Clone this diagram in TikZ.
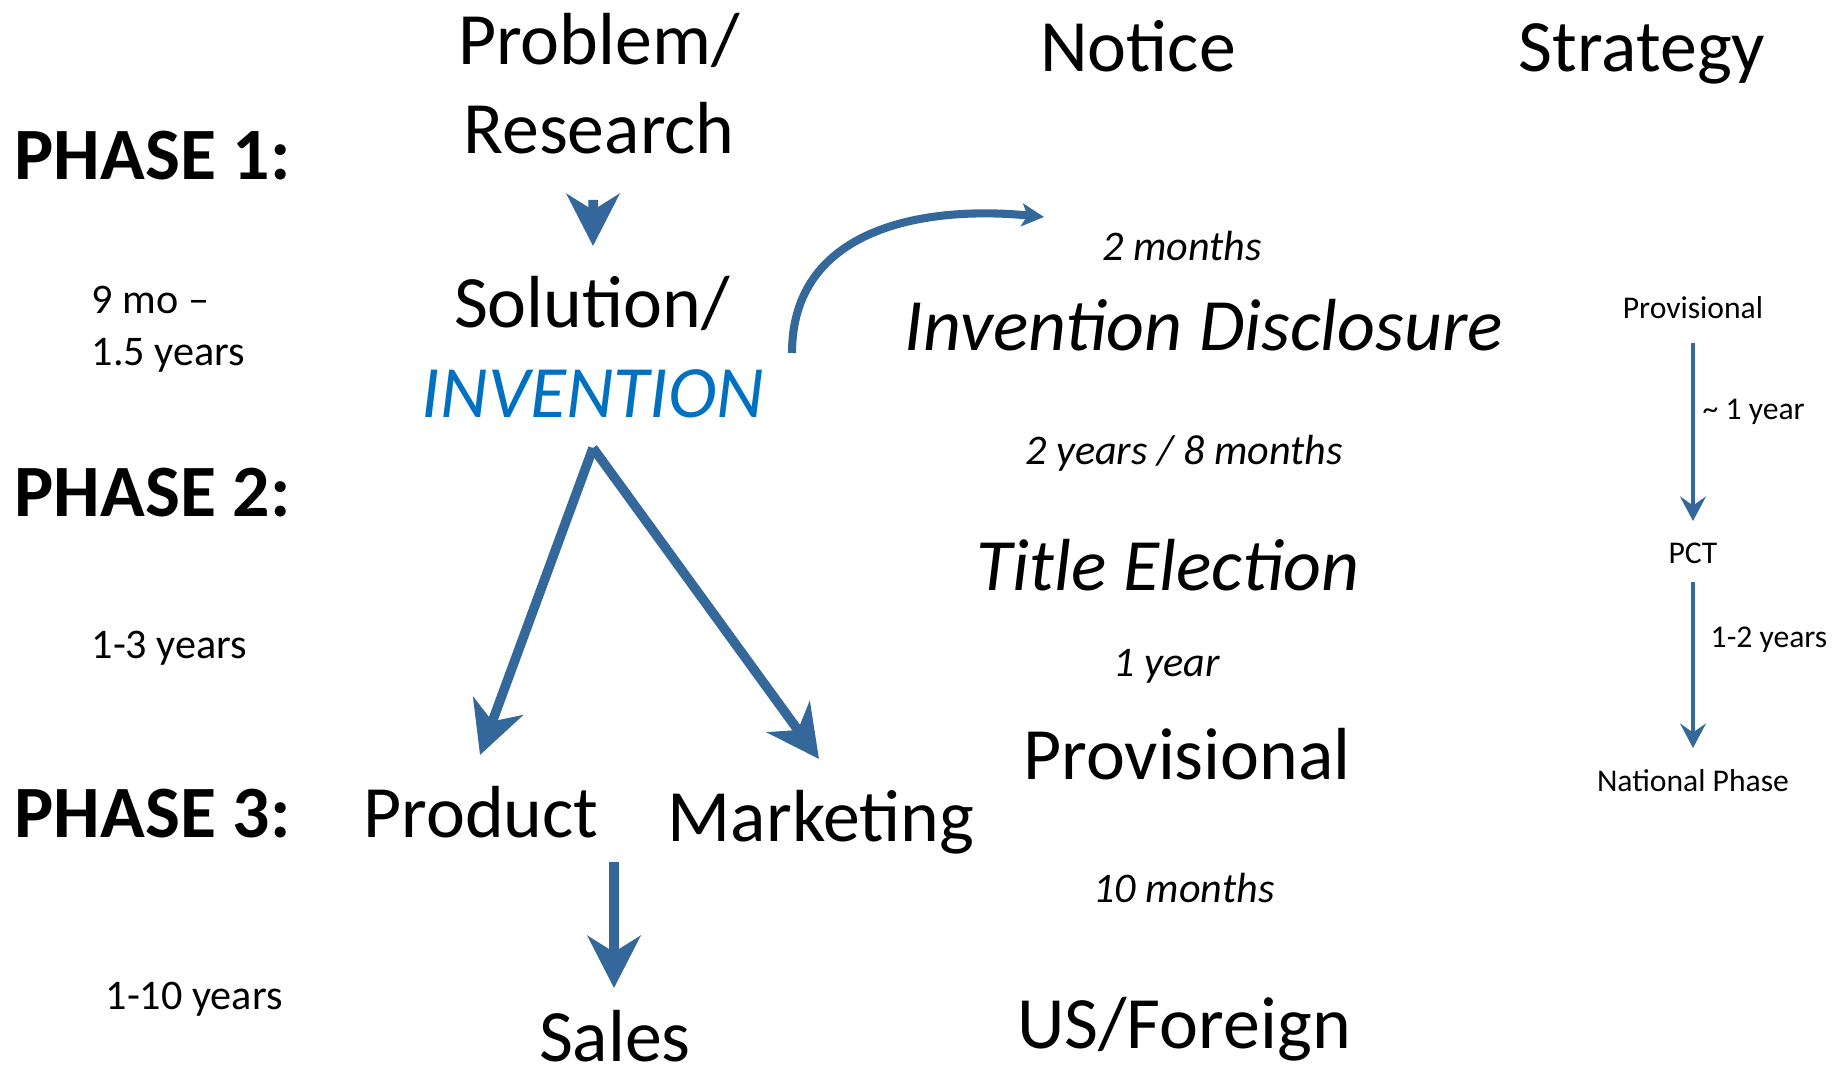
\documentclass[tikz,border=0pt]{standalone}
\usepackage{fontspec}
\setmainfont{Carlito}
\usetikzlibrary{arrows.meta}

\definecolor{flowblue}{RGB}{52,104,155}
\definecolor{invblue}{RGB}{0,112,192}

\begin{document}
\begin{tikzpicture}[
    every node/.style={inner sep=0pt},
    big/.style={font=\fontsize{21}{25}\selectfont, anchor=base},
    bigit/.style={font=\fontsize{21}{25}\selectfont\itshape, anchor=base},
    phase/.style={font=\fontsize{21}{25}\selectfont\bfseries, anchor=base west},
    span/.style={font=\fontsize{12}{14}\selectfont, anchor=base west},
    gap/.style={font=\fontsize{12}{14}\selectfont\itshape, anchor=base},
    small/.style={font=\fontsize{9}{11}\selectfont, anchor=base},
    smallside/.style={font=\fontsize{9}{11}\selectfont, anchor=base west},
    flow/.style={draw=flowblue, line width=2.7pt,
      -{Stealth[length=14.8pt, width=15pt, inset=4.6pt]}},
    loop/.style={draw=flowblue, line width=2.3pt,
      -{Stealth[length=6.3pt, width=6.5pt, inset=1.6pt]}},
    thin/.style={draw=flowblue, line width=0.95pt,
      -{Stealth[length=7pt, width=7.4pt, inset=2.6pt]}}]
  \useasboundingbox (0,0) rectangle (18.47,-10.71);

  % column heads
  \node[big] (problem)  at ( 5.99,-0.65) {Problem/};
  \node[big] (research) at ( 5.99,-1.54) {Research};
  \node[big] (notice)   at (11.38,-0.72) {Notice};
  \node[big] (strategy) at (16.42,-0.72) {Strategy};

  % phases and their spans
  \node[phase] (phase1) at (0.14,-1.80) {PHASE 1:};
  \node[phase] (phase2) at (0.14,-5.16) {PHASE 2:};
  \node[phase] (phase3) at (0.14,-8.37) {PHASE 3:};
  \node[span] (span1a) at (0.91,-3.14) {9 mo --};
  \node[span] (span1b) at (0.91,-3.66) {1.5 years};
  \node[span] (span2)  at (0.91,-6.58) {1-3 years};
  \node[span] (span3)  at (1.05,-10.09) {1-10 years};

  % invention flow
  \node[big] (solution)  at (5.92,-3.28) {Solution/};
  \node[bigit, text=invblue] (invention) at (5.93,-4.17) {INVENTION};
  \node[big] (product)   at (4.81,-8.37) {Product};
  \node[big] (marketing) at (8.21,-8.41) {Marketing};
  \node[big] (sales)     at (6.15,-10.61) {Sales};

  % notice column
  \node[gap]   (months2)    at (11.82,-2.61) {2 months};
  \node[bigit] (disclosure) at (12.04,-3.51) {Invention Disclosure};
  \node[gap]   (years2)     at (11.84,-4.64) {2 years / 8 months};
  \node[bigit] (title)      at (11.68,-5.90) {Title Election};
  \node[gap]   (year1)      at (11.67,-6.76) {1 year};
  \node[big]   (provisional) at (11.87,-7.79) {Provisional};
  \node[gap]   (months10)   at (11.84,-9.02) {10 months};
  \node[big]   (foreign)    at (11.84,-10.48) {US/Foreign};

  % strategy column
  \node[small] (prov)     at (16.93,-3.19) {Provisional};
  \node[smallside] (stepa) at (17.02,-4.20) {\textasciitilde{} 1 year};
  \node[small] (pct)      at (16.93,-5.63) {PCT};
  \node[smallside] (stepb) at (17.10,-6.47) {1-2 years};
  \node[small] (national) at (16.93,-7.91) {National Phase};

  % arrow ends
  \coordinate (fork)    at ([yshift=-0.31cm]invention.base);
  \coordinate (prodtip) at ([xshift=-0.01cm,yshift=0.82cm]product.base);
  \coordinate (mkttip)  at ([xshift=-0.02cm,yshift=0.82cm]marketing.base);
  \coordinate (loopa)   at ([xshift=1.99cm,yshift=0.64cm]invention.base);
  \coordinate (loopb)   at ([xshift=-1.38cm,yshift=0.44cm]months2.base);

  \draw[flow] ([xshift=-0.06cm,yshift=-0.46cm]research.base)
    -- ([xshift=0.01cm,yshift=0.82cm]solution.base);
  \draw[flow] (fork) -- (prodtip);
  \draw[flow] (fork) -- (mkttip);
  \draw[flow] ([xshift=-0.01cm,yshift=1.99cm]sales.base)
    -- ([xshift=-0.01cm,yshift=0.73cm]sales.base);
  \draw[loop] (loopa) .. controls ++(0,1.23) and ++(-1.24,0.12) .. (loopb);

  \draw[thin] ([yshift=-0.24cm]prov.base) -- ([yshift=0.42cm]pct.base);
  \draw[thin] ([yshift=-0.19cm]pct.base) -- ([yshift=0.43cm]national.base);
\end{tikzpicture}
\end{document}
